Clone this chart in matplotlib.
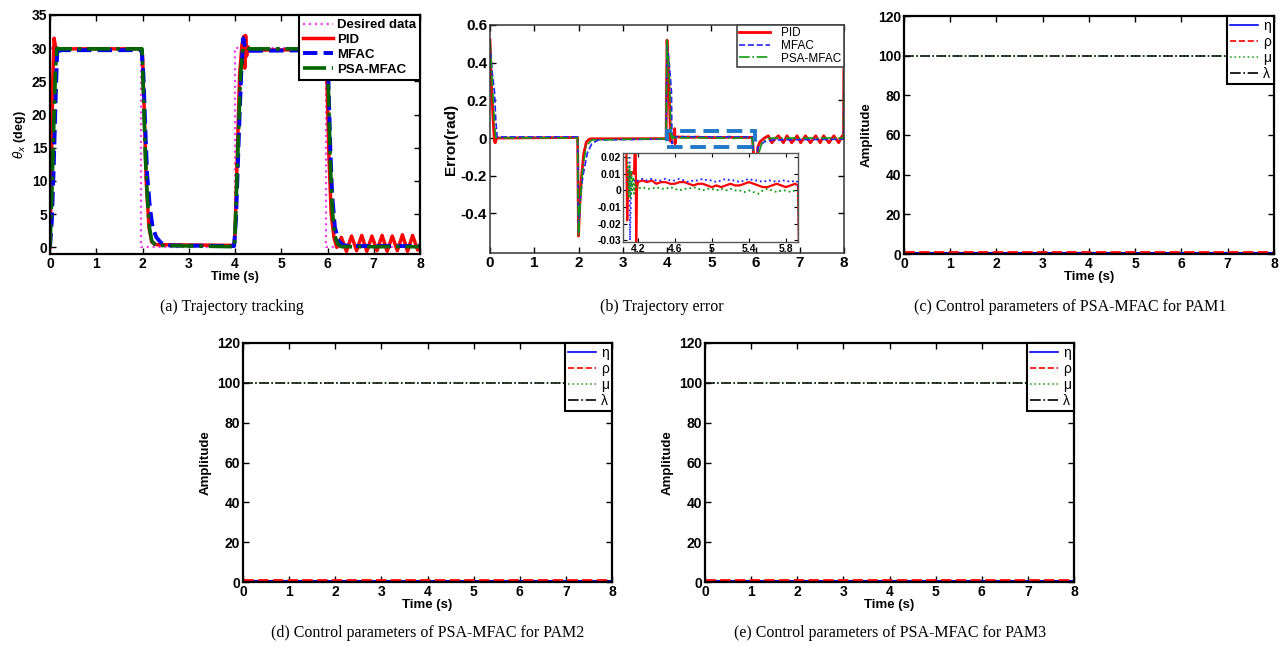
import numpy as np
import matplotlib
matplotlib.use('Agg')
import matplotlib.pyplot as plt
from matplotlib.patches import Rectangle

plt.rcParams['font.family'] = ['Liberation Sans', 'DejaVu Sans']
plt.rcParams['axes.unicode_minus'] = False
plt.rcParams['mathtext.fontset'] = 'dejavusans'

# ---------------- (a) trajectory tracking, deg ----------------
t_des = [0, 0.0, 1.97, 1.97, 3.99, 3.99, 5.96, 5.96, 8.0]
y_des = [0, 30, 30, 0, 0, 30, 30, 0, 0]

t_pid_a = [0, 0.03, 0.06, 0.09, 0.11, 0.14, 0.2, 1.98, 2.0, 2.04, 2.08, 2.14, 2.2, 2.3,
           3.98, 4.0, 4.05, 4.1, 4.15, 4.19, 4.21, 4.23, 4.25, 4.28, 4.33, 5.97, 5.99,
           6.03, 6.08, 6.14, 6.2, 6.25, 6.3, 6.41, 6.52, 6.63, 6.74, 6.85, 6.96, 7.07,
           7.18, 7.29, 7.40, 7.51, 7.62, 7.73, 7.84, 7.95, 8.0]
y_pid_a = [0, 12, 25, 31.5, 30.5, 29.8, 29.9, 29.9, 29, 20, 10, 3, 0.8, 0.4,
           0.3, 2, 14, 26, 30.5, 31.8, 27, 31.9, 28.8, 30.2, 29.7, 29.8, 25,
           14, 5, 1.5, 0, 0.8, 1.5, -0.6, 1.7, -0.5, 1.8, -0.6, 1.7, -0.5,
           1.8, -0.6, 1.7, -0.5, 1.9, -0.6, 1.8, -0.4, 0.3]

t_mfac_a = [0, 0.04, 0.08, 0.12, 0.16, 0.2, 0.25, 1.98, 2.02, 2.06, 2.1, 2.16, 2.22, 2.3,
            2.4, 2.5, 3.98, 4.02, 4.06, 4.1, 4.14, 4.18, 4.22, 4.27, 5.98, 6.02, 6.06,
            6.1, 6.16, 6.24, 6.32, 6.45, 8.0]
y_mfac_a = [0, 4, 12, 22, 30.5, 29.6, 29.7, 29.7, 26, 18, 11, 6, 3, 1.5,
            0.7, 0.3, 0.2, 4, 12, 20, 27, 31.5, 30, 29.6, 29.7, 25, 15,
            8, 3, 1, 0.4, 0.2, 0.2]

t_psa_a = [0, 0.04, 0.08, 0.12, 0.15, 0.2, 1.99, 2.02, 2.06, 2.1, 2.15, 2.2, 2.28, 3.99,
           4.03, 4.08, 4.12, 4.17, 4.22, 4.3, 5.99, 6.02, 6.06, 6.1, 6.15, 6.22, 6.3, 8.0]
y_psa_a = [0, 8, 18, 27, 30, 29.9, 29.9, 23, 14, 8, 3, 1, 0.3, 0.1,
           8, 18, 26, 30, 30.2, 29.9, 29.9, 24, 13, 6, 2, 0.5, 0.1, 0.1]

# ---------------- (b) trajectory error, rad ----------------
# zoom window samples (4.2 .. 5.9 every 0.05)
t_win = [4.20, 4.25, 4.30, 4.35, 4.40, 4.45, 4.50, 4.55, 4.60, 4.65, 4.70, 4.75,
         4.80, 4.85, 4.90, 4.95, 5.00, 5.05, 5.10, 5.15, 5.20, 5.25, 5.30, 5.35,
         5.40, 5.45, 5.50, 5.55, 5.60, 5.65, 5.70, 5.75, 5.80, 5.85, 5.90]
e_pid_win = [0.005, 0.006, 0.005, 0.006, 0.004, 0.005, 0.005, 0.004, 0.004, 0.005, 0.005, 0.004,
             0.003, 0.004, 0.004, 0.003, 0.002, 0.003, 0.002, 0.003, 0.004, 0.003, 0.003, 0.004,
             0.005, 0.004, 0.003, 0.002, 0.002, 0.003, 0.004, 0.003, 0.002, 0.003, 0.004]
e_mfac_win = [0.006, 0.007, 0.006, 0.007, 0.006, 0.006, 0.007, 0.006, 0.006, 0.007, 0.006, 0.005,
              0.006, 0.006, 0.007, 0.006, 0.006, 0.005, 0.006, 0.007, 0.006, 0.006, 0.005, 0.006,
              0.007, 0.006, 0.006, 0.005, 0.006, 0.006, 0.005, 0.006, 0.006, 0.005, 0.006]
e_psa_win = [0.001, 0.002, 0.001, 0.001, 0.002, 0.001, 0.001, 0.002, 0.001, 0.000, 0.001, 0.001,
             0.002, 0.001, 0.000, 0.001, 0.001, 0.000, 0.001, 0.000, 0.001, 0.000, 0.000, -0.001,
             0.000, -0.001, -0.002, 0.000, 0.001, 0.000, -0.001, 0.000, 0.000, -0.001, 0.000]

t_pid_b1 = [0, 0.03, 0.07, 0.1, 0.12, 0.15, 1.98, 2.0, 2.03, 2.07, 2.12, 2.18, 2.25, 2.35,
            3.98, 4.0, 4.03, 4.06, 4.075, 4.085, 4.1, 4.12, 4.14, 4.16, 4.175, 4.182, 4.19]
e_pid_b1 = [0.52, 0.3, 0.1, -0.02, -0.025, 0.0, 0.003, -0.52, -0.35, -0.2, -0.08, -0.02, -0.005, -0.004,
            -0.003, 0.52, 0.4, 0.15, 0.03, -0.018, 0.012, 0.008, 0.011, 0.01, 0.05, -0.031, 0.0]
t_pid_b2 = [5.93, 5.96, 6.0, 6.05, 6.1, 6.2, 6.29, 6.37, 6.46, 6.52, 6.63, 6.71, 6.82,
            6.94, 7.02, 7.13, 7.24, 7.36, 7.46, 7.54, 7.66, 7.77, 7.88, 7.96, 7.99, 8.0]
e_pid_b2 = [0.003, -0.1, -0.52, -0.05, -0.02, 0.0, 0.012, -0.025, 0.0, 0.012, -0.025, 0.012, -0.025,
            0.012, -0.025, 0.012, -0.025, 0.012, -0.025, 0.012, -0.025, 0.012, -0.025, 0.012, 0.0, 0.55]

t_mfac_b1 = [0, 0.05, 0.1, 0.13, 0.16, 1.98, 2.0, 2.05, 2.1, 2.2, 2.3, 2.45, 3.98, 4.0, 4.05,
             4.1, 4.11, 4.115, 4.13, 4.16, 4.19]
e_mfac_b1 = [0.5, 0.35, 0.25, 0.1, 0.006, 0.006, -0.5, -0.3, -0.2, -0.08, -0.03, -0.01, -0.005, 0.5, 0.4,
             0.25, 0.05, -0.03, 0.004, 0.006, 0.005]
t_mfac_b2 = [5.93, 5.96, 6.0, 6.05, 6.2, 6.4, 7.99, 8.0]
e_mfac_b2 = [0.005, -0.1, -0.5, -0.05, -0.02, -0.01, -0.006, 0.5]

t_psa_b1 = [0, 0.05, 0.1, 0.13, 1.98, 2.0, 2.05, 2.1, 2.18, 2.3, 3.98, 4.0, 4.05, 4.08,
            4.09, 4.1, 4.11, 4.12, 4.13, 4.14, 4.15, 4.16, 4.17, 4.19]
e_psa_b1 = [0.52, 0.3, 0.08, 0.001, 0.001, -0.52, -0.3, -0.15, -0.04, -0.01, -0.003, 0.52, 0.35, 0.1,
            0.02, -0.004, 0.015, -0.005, 0.012, 0.0, 0.008, -0.002, 0.004, 0.001]
t_psa_b2 = [5.93, 5.96, 6.0, 6.05, 6.15, 6.3, 7.99, 8.0]
e_psa_b2 = [0.0, -0.1, -0.5, -0.1, -0.02, 0.0, 0.0, 0.5]

zoom_t = (4.0, 5.99)
zoom_e = (-0.05, 0.04)

# ---------------- (c)(d)(e) PSA-MFAC parameters ----------------
t_par = [0, 8]
pam_eta = [[0.3, 0.3], [0.3, 0.3], [0.4, 0.4]]
pam_rho = [[1.0, 1.0], [1.0, 1.0], [0.9, 0.9]]
pam_mu = [[100, 100], [100, 100], [100, 100]]
pam_lam = [[100, 100], [100, 100], [100, 100]]

captions = ['(a) Trajectory tracking', '(b) Trajectory error',
            '(c) Control parameters of PSA-MFAC for PAM1',
            '(d) Control parameters of PSA-MFAC for PAM2',
            '(e) Control parameters of PSA-MFAC for PAM3']

W, H = 1286, 647
fig = plt.figure(figsize=(W / 100, H / 100), dpi=100)
fig.patch.set_facecolor('white')


def px_axes(l, t, r, b):
    return fig.add_axes([l / W, 1 - b / H, (r - l) / W, (b - t) / H])


def matlab_style(ax, fs=10, lw=1.6, col='black'):
    for s in ax.spines.values():
        s.set_linewidth(lw)
        s.set_color(col)
    ax.tick_params(direction='in', top=True, right=True, length=4, width=1,
                   labelsize=fs, pad=2)
    for lab in ax.get_xticklabels() + ax.get_yticklabels():
        lab.set_fontweight('bold')


def frame_legend(leg, lw=1.5, ec='black'):
    fr = leg.get_frame()
    fr.set_edgecolor(ec)
    fr.set_linewidth(lw)
    fr.set_boxstyle('square', pad=0)


# (a)
ax = px_axes(50, 15, 420, 254)
ax.plot(t_des, y_des, ':', color='#ee44ee', lw=1.6, label='Desired data')
ax.plot(t_pid_a, y_pid_a, '-', color='red', lw=2.5, label='PID')
ax.plot(t_mfac_a, y_mfac_a, '--', color='#0000ee', lw=2.8, label='MFAC')
ax.plot(t_psa_a, y_psa_a, '-.', color='#006400', lw=2.6, label='PSA-MFAC')
ax.set_xlim(0, 8)
ax.set_ylim(-1, 35)
ax.set_xticks(range(9))
ax.set_yticks(range(0, 36, 5))
matlab_style(ax)
ax.set_xlabel('Time (s)', fontsize=9, fontweight='bold', labelpad=0)
ax.set_ylabel(r'$\theta_x$ (deg)', fontsize=9, fontweight='bold', labelpad=3)
leg = ax.legend(loc='upper right', prop={'weight': 'bold', 'size': 9.5}, fancybox=False,
                borderaxespad=0, handlelength=2.3, handletextpad=0.3, labelspacing=0.2,
                borderpad=0.3, framealpha=1)
frame_legend(leg)

# (b)
ax = px_axes(490, 25, 844, 253)
series_b = [
    (t_pid_b1 + t_win + t_pid_b2, e_pid_b1 + e_pid_win + e_pid_b2, '-', 'red', 2.0, 'PID'),
    (t_mfac_b1 + t_win + t_mfac_b2, e_mfac_b1 + e_mfac_win + e_mfac_b2, '--', '#2222ff', 1.2, 'MFAC'),
    (t_psa_b1 + t_win + t_psa_b2, e_psa_b1 + e_psa_win + e_psa_b2, '-.', '#119911', 1.2, 'PSA-MFAC'),
]
for tt, ee, ls, c, lw, lab in series_b:
    ax.plot(tt, ee, ls, color=c, lw=lw, label=lab)
ax.add_patch(Rectangle((zoom_t[0], zoom_e[0]), zoom_t[1] - zoom_t[0], zoom_e[1] - zoom_e[0],
                       fill=False, ls=(0, (4, 2)), lw=2.8, ec='#1f78c8', zorder=5))
ax.set_xlim(0, 8)
ax.set_ylim(-0.61, 0.6)
ax.set_xticks(range(9))
ax.set_yticks([-0.4, -0.2, 0, 0.2, 0.4, 0.6])
ax.set_yticklabels(['-0.4', '-0.2', '0', '0.2', '0.4', '0.6'])
matlab_style(ax, fs=11, lw=1.1, col='#333333')
ax.set_ylabel('Error(rad)', fontsize=11, fontweight='bold', labelpad=2)
leg = ax.legend(loc='upper right', prop={'size': 8.5}, fancybox=False,
                borderaxespad=0, handlelength=2.6, handletextpad=1.0, labelspacing=0.05,
                borderpad=0.2, framealpha=1)
frame_legend(leg, lw=1.2, ec='#444444')

# inset
ins = px_axes(623, 153, 798, 242)
ins_styles = [('-', 'red', 1.6), (':', '#2222ff', 1.3), (':', '#119911', 1.3)]
for (tt, ee, _, _, _, _), (ls, c, lw) in zip(series_b, ins_styles):
    ins.plot(tt, ee, ls, color=c, lw=lw)
ins.set_xlim(4.04, 5.93)
ins.set_ylim(-0.031, 0.0225)
ins.set_xticks([4.2, 4.6, 5, 5.4, 5.8])
ins.set_xticklabels(['4.2', '4.6', '5', '5.4', '5.8'])
ins.set_yticks([-0.03, -0.02, -0.01, 0, 0.01, 0.02])
ins.set_yticklabels(['-0.03', '-0.02', '-0.01', '0', '0.01', '0.02'])
for s in ins.spines.values():
    s.set_linewidth(1.0)
    s.set_color('#555555')
ins.tick_params(direction='in', top=True, right=True, length=3, width=0.8, labelsize=7.5, pad=1.5)
for lab in ins.get_xticklabels() + ins.get_yticklabels():
    lab.set_fontweight('bold')

# (c) (d) (e)
par_boxes = [(904, 16, 1274, 254), (243, 343, 612, 582), (705, 343, 1074, 582)]
for k, box in enumerate(par_boxes):
    ax = px_axes(*box)
    ax.plot(t_par, pam_eta[k], '-', color='#0000ee', lw=2.2, label='η')
    ax.plot(t_par, pam_rho[k], '--', color='red', lw=2.0, label='ρ')
    ax.plot(t_par, pam_mu[k], ':', color='#33aa33', lw=1.1, label='μ')
    ax.plot(t_par, pam_lam[k], '-.', color='black', lw=1.1, label='λ')
    ax.set_xlim(0, 8)
    ax.set_ylim(0, 120)
    ax.set_xticks(range(9))
    ax.set_yticks(range(0, 121, 20))
    matlab_style(ax, fs=10)
    ax.set_xlabel('Time (s)', fontsize=9.5, fontweight='bold', labelpad=0)
    ax.set_ylabel('Amplitude', fontsize=9.5, fontweight='bold', labelpad=4)
    leg = ax.legend(loc='upper right', prop={'size': 10}, fancybox=False,
                    borderaxespad=0, handlelength=2.0, handletextpad=0.4, labelspacing=0.15,
                    borderpad=0.2, framealpha=1)
    for h in leg.get_lines():
        h.set_linewidth(1.2)
    frame_legend(leg)

cap_pos = [(232, 307), (662, 307), (1070, 307), (428, 633), (890, 633)]
for (cx, cy), txt in zip(cap_pos, captions):
    fig.text(cx / W, 1 - cy / H, txt, ha='center', va='center', fontsize=11.5,
             family='Liberation Serif')

fig.savefig('out.png', dpi=100, facecolor='white')
